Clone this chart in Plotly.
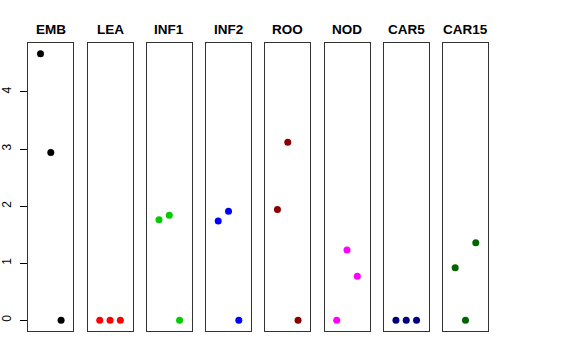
import plotly.graph_objects as go

# ---- data ----
panels = ["EMB", "LEA", "INF1", "INF2", "ROO", "NOD", "CAR5", "CAR15"]
x_pos = [1, 2, 3]
emb = [4.67, 2.94, 0.0]
lea = [0.0, 0.0, 0.0]
inf1 = [1.76, 1.84, 0.0]
inf2 = [1.74, 1.91, 0.0]
roo = [1.94, 3.12, 0.0]
nod = [0.0, 1.23, 0.77]
car5 = [0.0, 0.0, 0.0]
car15 = [0.92, 0.0, 1.36]
series = [emb, lea, inf1, inf2, roo, nod, car5, car15]
colors = ["#000000", "#FF0000", "#00CD00", "#0000FF", "#8B0000", "#FF00FF", "#000080", "#006400"]
y_ticks = [0, 1, 2, 3, 4]

# ---- layout constants ----
W, H = 576, 360
left0, step, pw = 28.3, 59.24, 45.0
top_px, bot_px = 43.0, 331.0
y_range = [-0.187, 4.857]
x_range = [2 - 2.185, 2 + 2.185]

fig = go.Figure()
layout = dict(
    width=W, height=H,
    margin=dict(l=0, r=0, t=0, b=0),
    paper_bgcolor="white", plot_bgcolor="white",
    showlegend=False,
    font=dict(family="Liberation Sans, Arial, sans-serif", color="black"),
)
annotations = []
for i, (name, vals, col) in enumerate(zip(panels, series, colors)):
    n = "" if i == 0 else str(i + 1)
    fig.add_trace(go.Scatter(
        x=x_pos, y=vals, mode="markers",
        marker=dict(color=col, size=7),
        xaxis="x" + n, yaxis="y" + n, hoverinfo="skip",
    ))
    l = left0 + step * i
    dom_x = [l / W, (l + pw) / W]
    dom_y = [1 - bot_px / H, 1 - top_px / H]
    layout["xaxis" + n] = dict(
        domain=dom_x, range=x_range, showgrid=False, zeroline=False,
        showticklabels=False, ticks="", showline=True, mirror=True,
        linecolor="#333333", linewidth=1, anchor="y" + n, automargin=False,
    )
    ya = dict(
        domain=dom_y, range=y_range, showgrid=False, zeroline=False,
        showline=True, mirror=True, linecolor="#333333", linewidth=1,
        anchor="x" + n, automargin=False,
    )
    if i == 0:
        ya.update(tickvals=y_ticks, ticks="outside", ticklen=7.5, tickcolor="black",
                  tickangle=-90, tickfont=dict(size=12), ticklabelstandoff=4)
    else:
        ya.update(showticklabels=False, ticks="")
    layout["yaxis" + n] = ya
    annotations.append(dict(
        text="<b>%s</b>" % name, x=(l + pw / 2) / W, y=1 - 29.5 / H,
        xref="paper", yref="paper", xanchor="center", yanchor="middle",
        showarrow=False, font=dict(size=13.5, color="black"),
    ))
layout["annotations"] = annotations
fig.update_layout(**layout)
fig.write_html("out.html", config={"displayModeBar": False},
               post_script="document.body.style.margin='0px';")
